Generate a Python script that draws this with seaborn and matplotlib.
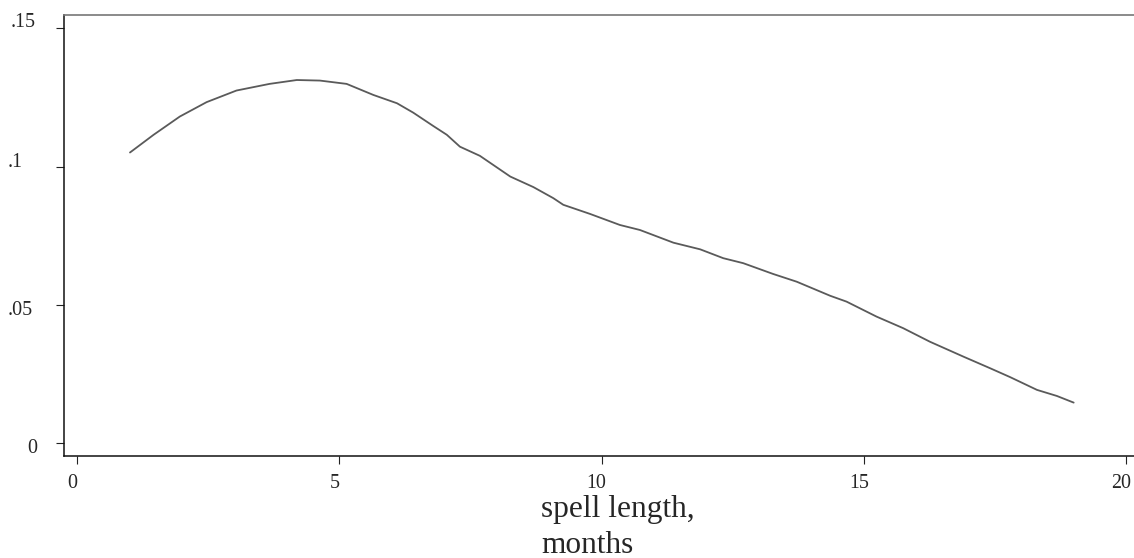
import numpy as np
import pandas as pd
import matplotlib
matplotlib.use("Agg")
import matplotlib.pyplot as plt
import matplotlib.transforms as mtransforms
import seaborn as sns

# values
spell = [1.01, 1.46, 1.96, 2.47, 3.04, 3.67, 4.19, 4.63, 5.14, 5.65, 6.1, 6.41,
         6.79, 7.05, 7.30, 7.68, 8.26, 8.70, 9.08, 9.27, 9.78, 10.35, 10.73,
         11.37, 11.88, 12.32, 12.70, 13.27, 13.72, 14.36, 14.67, 15.24, 15.75,
         16.26, 16.90, 17.41, 17.79, 18.30, 18.68, 19.0]
hazard = [.1051, .1115, .1181, .1233, .1275, .1299, .1313, .1311, .1299, .1259,
          .1229, .1195, .1147, .1115, .1072, .1039, .0964, .0926, .0886, .0862,
          .0829, .0789, .0771, .0725, .0701, .0669, .0651, .0612, .0584, .0533,
          .0512, .0458, .0416, .0367, .0313, .0271, .0239, .0193, .0171, .0147]
xticks = [0, 5, 10, 15, 20]
yticks = [0, 0.05, 0.1, 0.15]
ylabels = ["0", ".05", ".1", ".15"]

sns.set_style("white")
plt.rcParams['font.family'] = ['Liberation Serif', 'DejaVu Serif']

df = pd.DataFrame({"spell": spell, "hazard": hazard})

fig = plt.figure(figsize=(11.34, 5.58), dpi=100)
ax = fig.add_axes([64/1134, 1-456/558, 1-64/1134, (456-15)/558])
sns.lineplot(data=df, x="spell", y="hazard", color="#5a5a5a", lw=1.3, ax=ax)

ax.set_xlim(-0.248, 20.15)
ax.set_ylim(-0.0046, 0.1548)
ax.set_xticks(xticks)
ax.set_xticklabels([str(t) for t in xticks])
ax.set_yticks(yticks)
ax.set_yticklabels(ylabels, ha="center")
ax.set_xlabel("")
ax.set_ylabel("")
ax.tick_params(axis="both", direction="out", length=5.8, width=0.8, color="#222222",
               labelsize=14.4, left=True, bottom=True)
ax.tick_params(axis="x", pad=7)
ax.tick_params(axis="y", pad=22)

# nudge tick labels the way the original sits them (pixels)
for lab in ax.get_xticklabels():
    lab.set_transform(lab.get_transform() + mtransforms.Affine2D().translate(-5, 0))
y_nudge = {"0": (7, -3), ".05": (-5, -3), ".1": (-10, 7), ".15": (-2, 8)}
for lab in ax.get_yticklabels():
    dx, dy = y_nudge[lab.get_text()]
    lab.set_transform(lab.get_transform() + mtransforms.Affine2D().translate(dx, dy))

ax.spines["right"].set_visible(False)
ax.spines["top"].set_color("#777777")
ax.spines["top"].set_linewidth(1.2)
for s in ["left", "bottom"]:
    ax.spines[s].set_color("#111111")
    ax.spines[s].set_linewidth(1.1)

fig.text(541/1134, 1-517/558, "spell length,", fontsize=22.6, ha="left", va="baseline")
fig.text(541/1134, 1-553/558, "months", fontsize=22.6, ha="left", va="baseline")

fig.savefig("out.png", dpi=100)
